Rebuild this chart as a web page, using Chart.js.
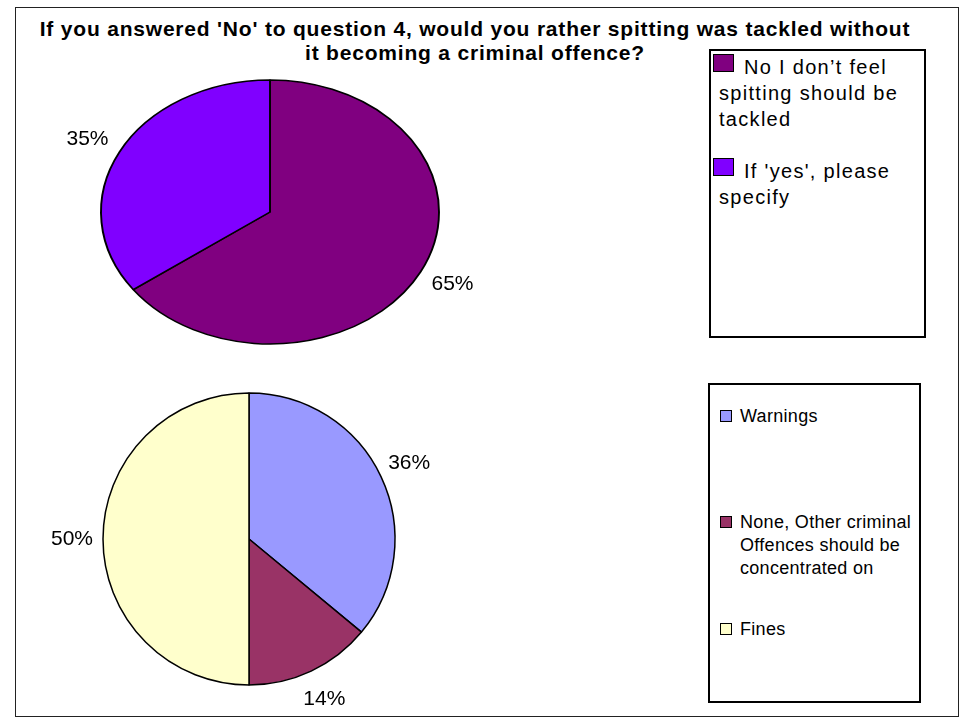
<!DOCTYPE html>
<html>
<head>
<meta charset="utf-8">
<script src="https://cdn.jsdelivr.net/npm/chart.js@4.4.1/dist/chart.umd.min.js"></script>
<style>
    body { margin: 0; background: #fff; }
    #page { position: relative; width: 971px; height: 723px; overflow: hidden; font-family: "Liberation Sans", Arial, sans-serif; }
    #frame { position: absolute; left: 15px; top: 7px; width: 942px; height: 708px; border: 1px solid #222; }
    #title { position: absolute; left: 20px; top: 17px; width: 910px; text-align: center; font-weight: bold; font-size: 21px; line-height: 24px; letter-spacing: 0.8px; color: #000; }
    canvas { position: absolute; }
    #pieTop { left: 40px; top: 52px; }
    #pieBottom { left: 29px; top: 369px; }
    .legendBox { position: absolute; box-sizing: border-box; border: 2px solid #000; background: #fff; color: #000; }
    #legendTop { left: 709px; top: 49px; width: 217px; height: 289px; padding: 3px 2px 0 8px; font-size: 20px; line-height: 26px; letter-spacing: 1.3px; }
    #legendTop .item { margin-bottom: 26px; }
    #legendTop .sw { display: inline-block; width: 21px; height: 18px; box-sizing: border-box; border: 1.5px solid #000; margin-left: -6px; margin-right: 10px; vertical-align: 2px; }
    #legendBottom { left: 708px; top: 383px; width: 213px; height: 320px; padding: 20px 0 0 10px; font-size: 18px; line-height: 23px; letter-spacing: 0.3px; }
    #legendBottom .item { display: flex; align-items: flex-start; }
    #legendBottom .item:nth-child(1) { margin-bottom: 83px; }
    #legendBottom .item:nth-child(2) { margin-bottom: 38px; }
    #legendBottom .sw { flex: none; width: 12px; height: 12px; box-sizing: border-box; border: 1.5px solid #000; margin-top: 5px; margin-right: 8px; }
</style>
</head>
<body>
<div id="page">
    <div id="frame"></div>
    <div id="title">If you answered 'No' to question 4, would you rather spitting was tackled without<br>it becoming a criminal offence?</div>
    <canvas id="pieTop" width="460" height="320"></canvas>
    <canvas id="pieBottom" width="440" height="340"></canvas>
    <div id="legendTop" class="legendBox"></div>
    <div id="legendBottom" class="legendBox"></div>
</div>
<script>
// top pie: would you rather spitting was tackled another way
const topLabels = ["No I don\u2019t feel spitting should be tackled", "If 'yes', please specify"];
const topValues = [65, 35];
const topColors = ['#800080', '#8000FF'];

// bottom pie: how should it be tackled
const bottomLabels = ['Warnings', 'None, Other criminal Offences should be concentrated on', 'Fines'];
const bottomValues = [36, 14, 50];
const bottomColors = ['#9999FF', '#993366', '#FFFFCC'];

// squash the top pie into an ellipse like the original
const ellipsePlugin = {
    id: 'ellipse',
    beforeDatasetsDraw(chart, args, opts) {
        const sx = opts.scaleX || 1;
        if (sx === 1) return;
        const a = chart.chartArea;
        const cx = (a.left + a.right) / 2;
        const ctx = chart.ctx;
        ctx.save();
        ctx.translate(cx, 0);
        ctx.scale(sx, 1);
        ctx.translate(-cx, 0);
    },
    afterDatasetsDraw(chart, args, opts) {
        const sx = opts.scaleX || 1;
        if (sx === 1) return;
        chart.ctx.restore();
    }
};

// percent labels outside each slice
const pctLabelPlugin = {
    id: 'pctLabels',
    afterDraw(chart, args, opts) {
        const ctx = chart.ctx;
        const meta = chart.getDatasetMeta(0);
        const values = chart.data.datasets[0].data;
        const total = values.reduce((a, b) => a + b, 0);
        const sx = (chart.options.plugins.ellipse && chart.options.plugins.ellipse.scaleX) || 1;
        ctx.save();
        ctx.font = '21px "Liberation Sans", Arial, sans-serif';
        ctx.fillStyle = '#000';
        ctx.textAlign = 'center';
        ctx.textBaseline = 'middle';
        meta.data.forEach((arc, i) => {
            const p = arc.getProps(['x', 'y', 'startAngle', 'endAngle', 'outerRadius'], true);
            const mid = (p.startAngle + p.endAngle) / 2;
            const r = p.outerRadius + opts.offset;
            const x = p.x + Math.cos(mid) * r * sx;
            const y = p.y + Math.sin(mid) * r;
            ctx.fillText(Math.round(values[i] / total * 100) + '%', x, y);
        });
        ctx.restore();
    }
};

function makePie(id, labels, values, colors, radius, scaleX, offset) {
    const ctx = document.getElementById(id).getContext('2d');
    return new Chart(ctx, {
        type: 'pie',
        data: {
            labels: labels,
            datasets: [{
                data: values,
                backgroundColor: colors,
                borderColor: '#000',
                borderWidth: 1.5,
                hoverOffset: 0
            }]
        },
        options: {
            responsive: false,
            animation: false,
            radius: radius,
            rotation: 0,
            layout: { padding: 0 },
            plugins: {
                legend: { display: false },
                title: { display: false },
                tooltip: { enabled: false },
                ellipse: { scaleX: scaleX },
                pctLabels: { offset: offset }
            }
        },
        plugins: [ellipsePlugin, pctLabelPlugin]
    });
}

function buildLegend(id, labels, colors) {
    const box = document.getElementById(id);
    labels.forEach((label, i) => {
        const item = document.createElement('div');
        item.className = 'item';
        const sw = document.createElement('span');
        sw.className = 'sw';
        sw.style.background = colors[i];
        const txt = document.createElement('span');
        txt.textContent = label;
        item.appendChild(sw);
        item.appendChild(txt);
        box.appendChild(item);
    });
}

makePie('pieTop', topLabels, topValues, topColors, 132, 169 / 132, 28);
makePie('pieBottom', bottomLabels, bottomValues, bottomColors, 146, 1, 31);
buildLegend('legendTop', topLabels, topColors);
buildLegend('legendBottom', bottomLabels, bottomColors);
</script>
</body>
</html>
